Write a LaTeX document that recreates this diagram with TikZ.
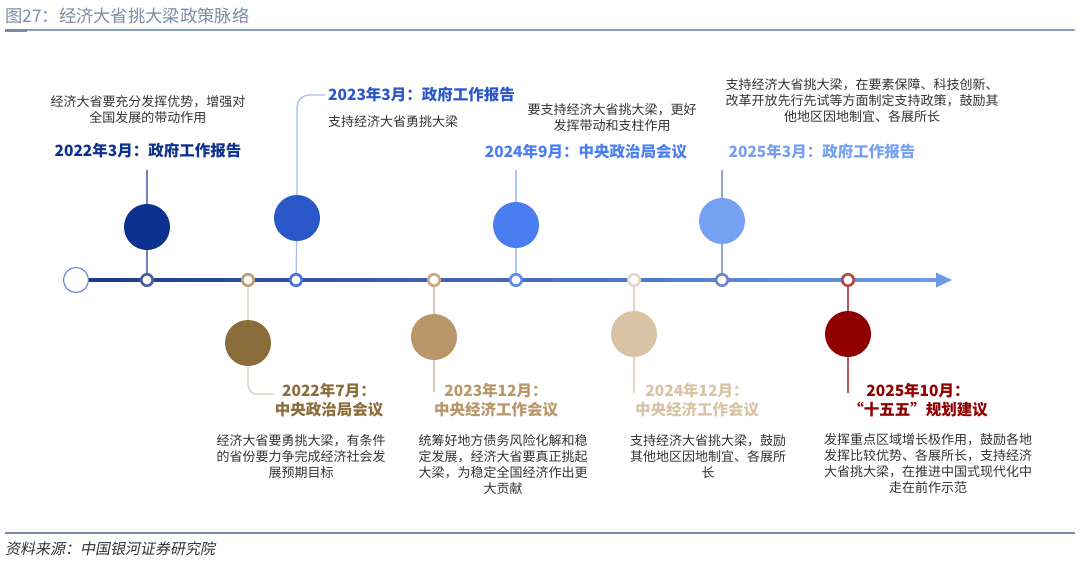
\documentclass[tikz,border=0pt]{standalone}
\usepackage{fontspec}
\setmainfont{Noto Sans CJK SC}
\newfontfamily\srcfont[FakeSlant=0.2]{Noto Sans CJK SC}
\usetikzlibrary{calc}

% Colours
\definecolor{hdgray}{HTML}{7C8AA6}
\definecolor{rulebl}{HTML}{8A9CC0}
\definecolor{txtgray}{HTML}{333333}
\definecolor{axnavy}{HTML}{1E3A8A}
\definecolor{axlight}{HTML}{6F9AE8}
\definecolor{navyA}{HTML}{0D318F}
\definecolor{blueB}{HTML}{2B58C9}
\definecolor{blueC}{HTML}{4A7EF0}
\definecolor{blueD}{HTML}{76A0F2}
\definecolor{brownA}{HTML}{8B6D3C}
\definecolor{brownB}{HTML}{B8966A}
\definecolor{brownC}{HTML}{D8C3A5}
\definecolor{redA}{HTML}{8F0000}

\begin{document}
\begin{tikzpicture}[x=1pt,y=-1pt,
  desc/.style={font=\fontsize{13}{16}\selectfont, text=txtgray, align=center, inner sep=0pt},
  ttl/.style={font=\fontsize{15.5}{19.5}\selectfont\bfseries, align=center, inner sep=0pt},
  bigdot/.style={circle, minimum size=46pt, inner sep=0pt},
  ring/.style={circle, draw=#1, line width=2.6pt, fill=white, minimum size=11.5pt, inner sep=0pt},
  link/.style={line width=1.3pt}]

\useasboundingbox (0,0) rectangle (1080,576);

% Header
\node[anchor=west, inner sep=0pt, text=hdgray, font=\fontsize{17.3}{20}\selectfont] (head) at (5,16) {图27：经济大省挑大梁政策脉络};
\draw[rulebl, line width=1.2pt] (5,30) -- (1075,30);
\draw[hdgray, line width=3pt] (5,30) -- (27,30);

% Axis
\coordinate (axs) at (89,280);
\coordinate (axe) at (952,280);
\node[circle, draw=axlight!70!axnavy, line width=1pt, minimum size=25pt, inner sep=0pt] (start) at (76,280) {};
\shade[left color=axnavy, right color=axlight] (axs) ++(0,-1.5) rectangle ($(axe)+(-15,1.5)$);
\fill[axlight] (axe) -- ++(-16,-7.5) -- ++(0,15) -- cycle;

% Markers on the axis
\foreach \name/\x/\col in {r1/147/4A5FA0, r2/248/B8A078, r3/296/4A72D8, r4/434/C8AA80,
                           r5/516/5B8CE8, r6/634/E4D8C8, r7/722/6B88C0, r8/848/B04848}
{
\definecolor{tmp}{HTML}{\col}
\node[ring=tmp] (\name) at (\x,280) {};
}

% Upper events
\node[bigdot, fill=navyA] (c1) at (147,227) {};
\node[bigdot, fill=blueB] (c2) at (297,218) {};
\node[bigdot, fill=blueC] (c3) at (516,225) {};
\node[bigdot, fill=blueD] (c4) at (722,221) {};

\node[desc] (d1) at (148,110) {经济大省要充分发挥优势，增强对\\全国发展的带动作用};
\node[ttl, text=navyA] (t1) at (148,151) {2022年3月：政府工作报告};
\node[ttl, text=blueB, anchor=west] (t2) at (328,95) {2023年3月：政府工作报告};
\node[desc, anchor=west] (d2) at (328,122) {支持经济大省勇挑大梁};
\node[desc] (d3) at (612,118) {要支持经济大省挑大梁，更好\\发挥带动和支柱作用};
\node[ttl, text=blueC] (t3) at (586,152) {2024年9月：中央政治局会议};
\node[desc] (d4) at (862,101) {支持经济大省挑大梁，在要素保障、科技创新、\\改革开放先行先试等方面制定支持政策，鼓励其\\他地区因地制宜、各展所长};
\node[ttl, text=blueD] (t4) at (822,152) {2025年3月：政府工作报告};

\coordinate (k1) at (147,170);
\coordinate (k3) at (516,170);
\coordinate (k4) at (722,170);
\draw[link, color=navyA!60] (k1) -- (c1) (c1) -- (r1);
\draw[link, color=blueB!40, rounded corners=12pt] (r3) -- (c2) (c2.north) |- ([xshift=-3pt]t2.west);
\draw[link, color=blueC!45] (k3) -- (c3) (c3) -- (r5);
\draw[link, color=blueD!55!gray!80] (k4) -- (c4) (c4) -- (r7);

% Lower events
\node[bigdot, fill=brownA] (c5) at (248,343) {};
\node[bigdot, fill=brownB] (c6) at (434,337) {};
\node[bigdot, fill=brownC] (c7) at (634,334) {};
\node[bigdot, fill=redA] (c8) at (848,334) {};

\node[ttl, text=brownA] (t5) at (329,400) {2022年7月：\\中央政治局会议};
\node[desc] (d5) at (301,457) {经济大省要勇挑大梁，有条件\\的省份要力争完成经济社会发\\展预期目标};
\node[ttl, text=brownB] (t6) at (496,400) {2023年12月：\\中央经济工作会议};
\node[desc] (d6) at (503,464.5) {统筹好地方债务风险化解和稳\\定发展，经济大省要真正挑起\\大梁，为稳定全国经济作出更\\大贡献};
\node[ttl, text=brownC] (t7) at (697,400) {2024年12月：\\中央经济工作会议};
\node[desc] (d7) at (708,456) {支持经济大省挑大梁，鼓励\\其他地区因地制宜、各展所\\长};
\node[ttl, text=redA] (t8) at (918,400) {2025年10月：\\“十五五”规划建议};
\node[desc] (d8) at (928,464) {发挥重点区域增长极作用，鼓励各地\\发挥比较优势、各展所长，支持经济\\大省挑大梁，在推进中国式现代化中\\走在前作示范};

\coordinate (e5) at (274,394);
\coordinate (k6) at (434,392);
\coordinate (k7) at (634,393);
\coordinate (k8) at (848,393);
\draw[link, color=brownA!35, rounded corners=9pt] (r2) -- (c5) (c5.south) |- (e5);
\draw[link, color=brownB!50] (r4) -- (c6) (c6) -- (k6);
\draw[link, color=brownC!70] (r6) -- (c7) (c7) -- (k7);
\draw[link, color=redA!65] (r8) -- (c8) (c8) -- (k8);

% Footer
\draw[hdgray, line width=2pt] (5,533) -- (1075,533);
\node[anchor=west, inner sep=0pt, text=txtgray, font=\srcfont\fontsize{15}{18}\selectfont] (src) at (5,549) {资料来源：中国银河证券研究院};

\end{tikzpicture}
\end{document}
